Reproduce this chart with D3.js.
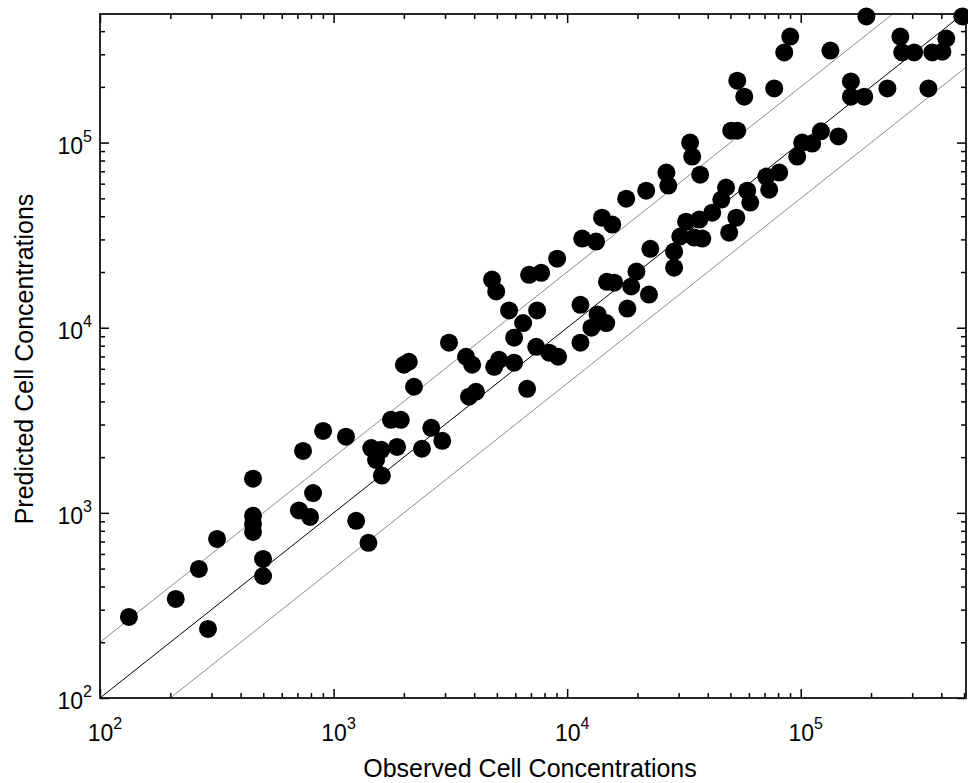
<!DOCTYPE html>
<html>
<head>
<meta charset="utf-8">
<script src="https://cdn.jsdelivr.net/npm/d3@7"></script>
<style>
  body { margin: 0; background: #fff; }
  svg text { font-family: "Liberation Sans", Arial, sans-serif; fill: #000; }
</style>
</head>
<body>
<div id="chart"></div>
<script>
// observed vs predicted cell concentrations
const observed = [
  133, 211, 265, 290, 317, 452, 452, 452, 452, 499, 499, 711, 793, 740, 817, 902,
  1130, 1250, 1410, 1450, 1600, 1520, 1610, 1760, 1940, 1870, 2390, 2620, 2920,
  2000, 2100, 2210, 3120, 3690, 3920, 3800, 4070, 4770, 4970, 4870, 5110, 5930,
  5640, 5930, 6480, 6740, 6870, 7740, 7440, 7370, 8380, 9150, 9060, 11400, 11400,
  13500, 14700, 12700, 14800, 15900, 18100, 19800, 18800, 22400, 22700, 11600,
  13300, 14100, 15600, 17900, 21800, 26600, 27100, 33600, 34300, 37100, 28700,
  28700, 30500, 32300, 36800, 41800, 45700, 47900, 35000, 37900, 49400, 53000,
  59000, 60800, 71200, 80900, 73300, 50400, 53500, 53500, 57300, 77000, 90200,
  85000, 134000, 96600, 101500, 112000, 122000, 145000, 164000, 164000, 187000,
  235000, 352000, 191000, 492000, 267000, 272000, 306000, 366000, 404000, 420000
];
const predicted = [
  274, 343, 498, 236, 723, 1530, 964, 872, 789, 564, 456, 1030, 951, 2160, 1280, 2770,
  2580, 906, 689, 2240, 2190, 1930, 1590, 3180, 3180, 2270, 2220, 2880, 2450,
  6310, 6550, 4800, 8300, 6970, 6310, 4240, 4510, 18200, 15700, 6150, 6710, 6470,
  12400, 8830, 10600, 4680, 19300, 19800, 12400, 7890, 7330, 6970, 23600, 13300, 8300,
  11800, 10600, 10000, 17700, 17500, 12700, 20100, 16700, 15100, 26700, 30300,
  29200, 39300, 36100, 49800, 55000, 68900, 58600, 100000, 84000, 67100, 25800,
  21100, 31100, 37400, 38400, 41800, 49200, 57200, 30700, 30300, 32600, 39300,
  55000, 47400, 65500, 68900, 55700, 116000, 116000, 216000, 177000, 196000, 374000,
  307000, 314000, 84000, 100000, 98800, 115000, 108000, 214000, 177000, 177000,
  196000, 196000, 480000, 480000, 374000, 307000, 307000, 307000, 310000, 365000
];
const decades = [2, 3, 4, 5];
const refFactors = [1, 2, 0.5];   // y = x, y = 2x, y = x/2
const xTitle = 'Observed Cell Concentrations';
const yTitle = 'Predicted Cell Concentrations';

const width = 968, height = 783;
const mLeft = 100, mRight = 966, mTop = 14, mBottom = 698;

const svg = d3.select('#chart').append('svg')
  .attr('width', width)
  .attr('height', height);

const x = d3.scaleLog().domain([100, 5.1e5]).range([mLeft, mRight]);
const y = d3.scaleLog().domain([100, 4.95e5]).range([mBottom, mTop]);

const inDom = (s, v) => v >= s.domain()[0] && v <= s.domain()[1] * 1.0001;
const minorOf = s => decades.flatMap(k => d3.range(2, 10).map(m => m * Math.pow(10, k))).filter(v => inDom(s, v));
const majorOf = s => decades.map(k => Math.pow(10, k)).filter(v => inDom(s, v));

// reference lines, clipped to the axes box
svg.append('clipPath').attr('id', 'box')
  .append('rect')
  .attr('x', mLeft).attr('y', mTop)
  .attr('width', mRight - mLeft).attr('height', mBottom - mTop);

const refLine = d3.line().x(d => x(d[0])).y(d => y(d[1]));
svg.append('g')
  .attr('clip-path', 'url(#box)')
  .selectAll('path')
  .data(refFactors)
  .join('path')
  .attr('d', f => refLine([[10, 10 * f], [1e7, 1e7 * f]]))
  .attr('fill', 'none')
  .attr('stroke', f => f === 1 ? '#000' : '#8c8c8c')
  .attr('stroke-width', 1);

// inward ticks on all four sides
function ticks(axisFn, scale, transform) {
  const gMinor = svg.append('g').attr('transform', transform)
    .call(axisFn(scale).tickValues(minorOf(scale)).tickSize(-5).tickFormat(''));
  const gMajor = svg.append('g').attr('transform', transform)
    .call(axisFn(scale).tickValues(majorOf(scale)).tickSize(-9).tickFormat(''));
  [gMinor, gMajor].forEach(g => {
    g.select('.domain').remove();
    g.selectAll('line').attr('stroke', '#000').attr('stroke-width', 1.5);
  });
}
ticks(d3.axisBottom, x, `translate(0,${mBottom})`);
ticks(d3.axisTop, x, `translate(0,${mTop})`);
ticks(d3.axisLeft, y, `translate(${mLeft},0)`);
ticks(d3.axisRight, y, `translate(${mRight},0)`);

// axes box
svg.append('rect')
  .attr('x', mLeft).attr('y', mTop)
  .attr('width', mRight - mLeft).attr('height', mBottom - mTop)
  .attr('fill', 'none')
  .attr('stroke', '#111')
  .attr('stroke-width', 1.8);

// points
svg.append('g')
  .selectAll('circle')
  .data(observed.map((o, i) => [o, predicted[i]]))
  .join('circle')
  .attr('cx', d => x(d[0]))
  .attr('cy', d => y(d[1]))
  .attr('r', 9)
  .attr('fill', '#000');

// tick labels, 10 with superscript exponent
function powLabel(sel, k) {
  sel.append('tspan').text('10');
  sel.append('tspan').text(k).attr('font-size', 16).attr('dy', -12);
}
decades.forEach(k => {
  const v = Math.pow(10, k);
  if (inDom(x, v)) {
    svg.append('text')
      .attr('x', x(v) + 5).attr('y', 741)
      .attr('text-anchor', 'middle')
      .attr('font-size', 23)
      .call(powLabel, k);
  }
  if (inDom(y, v)) {
    svg.append('text')
      .attr('x', 92).attr('y', y(v) + 11)
      .attr('text-anchor', 'end')
      .attr('font-size', 23)
      .call(powLabel, k);
  }
});

// axis titles
svg.append('text')
  .attr('x', 530).attr('y', 777)
  .attr('text-anchor', 'middle')
  .attr('font-size', 25)
  .text(xTitle);

svg.append('text')
  .attr('transform', `translate(33,359) rotate(-90)`)
  .attr('text-anchor', 'middle')
  .attr('font-size', 25)
  .text(yTitle);
</script>
</body>
</html>
